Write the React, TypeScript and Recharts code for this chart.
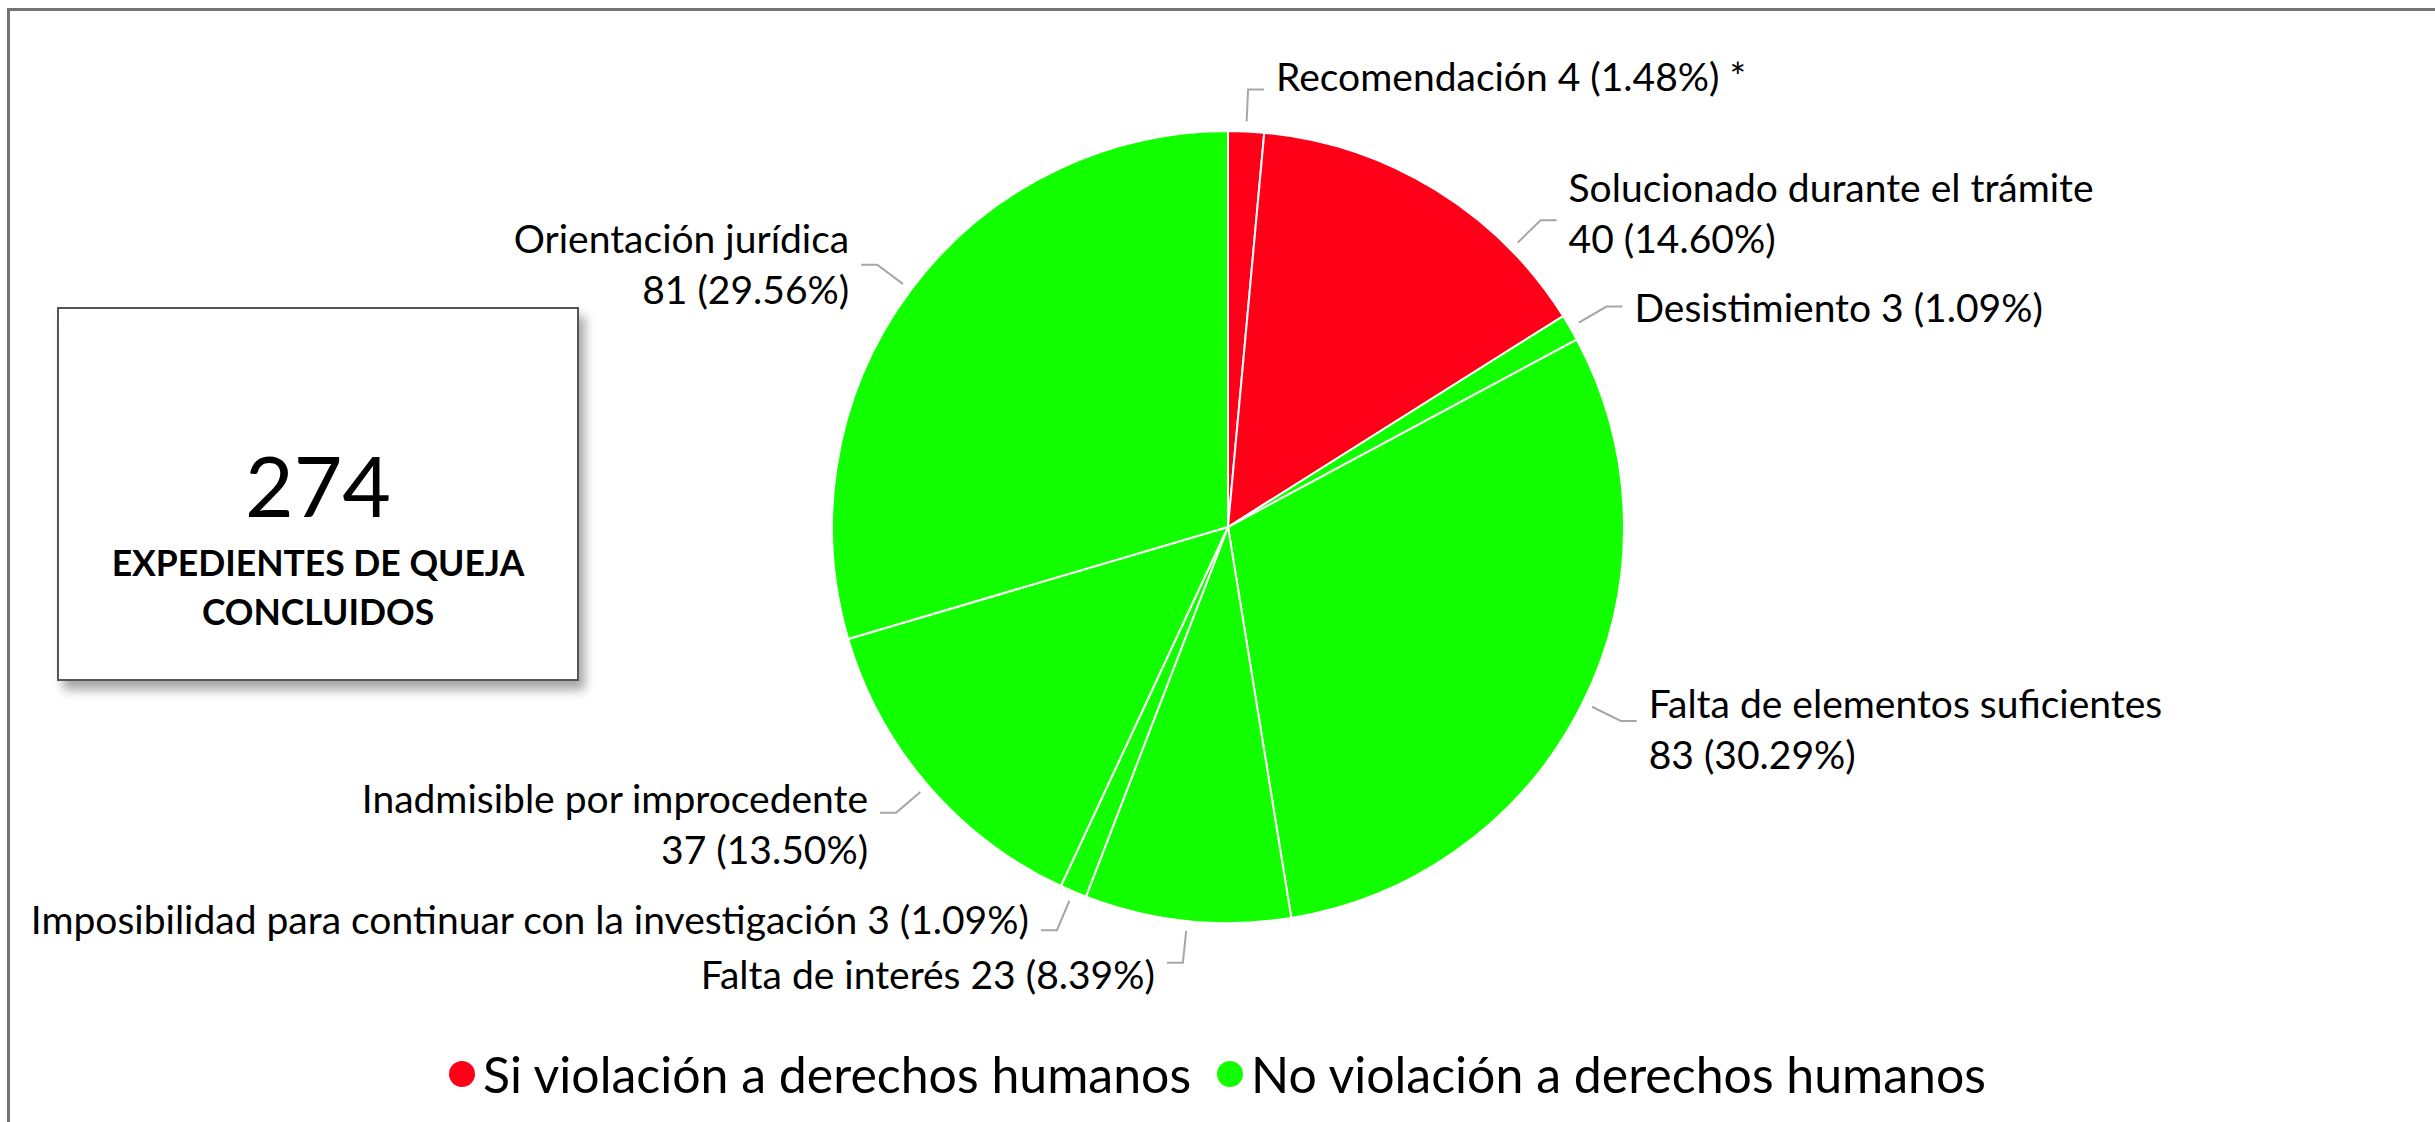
import { PieChart, Pie, Cell, Legend } from "recharts";

// slices in clockwise order starting at 12 o'clock
const categories = [
  "Recomendación",
  "Solucionado durante el trámite",
  "Desistimiento",
  "Falta de elementos suficientes",
  "Falta de interés",
  "Imposibilidad para continuar con la investigación",
  "Inadmisible por improcedente",
  "Orientación jurídica",
];
const values = [4, 40, 3, 83, 23, 3, 37, 81];
const percentLabels = ["1.48%", "14.60%", "1.09%", "30.29%", "8.39%", "1.09%", "13.50%", "29.56%"];
const labelNotes = [" *", "", "", "", "", "", "", ""];
const groupOfSlice = [0, 0, 1, 1, 1, 1, 1, 1];
const groups = ["Si violación a derechos humanos", "No violación a derechos humanos"];
const boxCaption = ["EXPEDIENTES DE QUEJA", "CONCLUIDOS"];

// label layout (not data)
const labelWraps = [false, true, false, true, false, false, true, true];
const labelShift = [0, 14, 0, 0, 0, 0, 0, 0];
const labelDy = [-13, -8, 0, 7, 11, -11, 10, -2];

const groupColors = ["#FF0019", "#12FF00"];
const FONT = "Lato, 'Open Sans', sans-serif";
const W = 2435;
const H = 1122;

const data = categories.map((name, i) => ({
  name,
  value: values[i],
  pct: percentLabels[i],
  note: labelNotes[i],
  group: groupOfSlice[i],
}));

const total = values.reduce((s, v) => s + v, 0);

const renderLabel = (props: any) => {
  const { cx, cy, midAngle, outerRadius, index } = props;
  const d = data[index];
  const a = ((90 - midAngle + labelShift[index]) * Math.PI) / 180;
  const sx = Math.sin(a);
  const sy = -Math.cos(a);
  const x0 = cx + (outerRadius + 10) * sx;
  const y0 = cy + (outerRadius + 10) * sy;
  const ex = cx + (outerRadius + 42) * sx;
  const ey = cy + (outerRadius + 42) * sy;
  const right = sx >= 0;
  const hx = ex + (right ? 16 : -16);
  const tx = ex + (right ? 28 : -28);
  const ty = ey + labelDy[index];
  const anchor = right ? "start" : "end";
  const second = `${d.value} (${d.pct})${d.note}`;
  return (
    <g key={`lbl-${index}`}>
      <polyline
        points={`${x0},${y0} ${ex},${ey} ${hx},${ey}`}
        fill="none"
        stroke="#a6a6a6"
        strokeWidth={2}
      />
      {labelWraps[index] ? (
        <text x={tx} y={ty} textAnchor={anchor} fontFamily={FONT} fontSize={39} fill="#000">
          <tspan x={tx} dy={-25} dominantBaseline="central">{d.name}</tspan>
          <tspan x={tx} dy={51} dominantBaseline="central">{second}</tspan>
        </text>
      ) : (
        <text
          x={tx}
          y={ty}
          textAnchor={anchor}
          dominantBaseline="central"
          fontFamily={FONT}
          fontSize={39}
          fill="#000"
        >
          {`${d.name} ${second}`}
        </text>
      )}
    </g>
  );
};

const renderLegend = () => (
  <div
    style={{
      display: "flex",
      justifyContent: "center",
      alignItems: "center",
      fontFamily: FONT,
      fontSize: 50,
      color: "#000",
    }}
  >
    {groups.map((g, i) => (
      <div key={g} style={{ display: "flex", alignItems: "center", marginRight: i === 0 ? 26 : 0 }}>
        <span
          style={{
            width: 26,
            height: 26,
            borderRadius: "50%",
            background: groupColors[i],
            marginRight: 8,
            display: "inline-block",
          }}
        />
        <span>{g}</span>
      </div>
    ))}
  </div>
);

export default function App() {
  return (
    <div
      style={{
        position: "absolute",
        left: 0,
        top: 0,
        width: W,
        height: H,
        overflow: "hidden",
        background: "#fff",
      }}
    >
      <div
        style={{
          position: "absolute",
          left: 7,
          top: 8,
          width: W + 100,
          height: H + 100,
          border: "3px solid #747474",
        }}
      />
      <div style={{ position: "absolute", left: 0, top: 0 }}>
        <PieChart width={W} height={H} margin={{ top: 0, right: 0, bottom: 0, left: 0 }}>
          <Pie
            data={data}
            dataKey="value"
            nameKey="name"
            cx={1228}
            cy={527}
            outerRadius={396}
            startAngle={90}
            endAngle={-270}
            stroke="#ffffff"
            strokeWidth={2}
            label={renderLabel}
            labelLine={false}
            isAnimationActive={false}
          >
            {data.map((d, i) => (
              <Cell key={i} fill={groupColors[d.group]} />
            ))}
          </Pie>
          <Legend
            content={renderLegend}
            wrapperStyle={{ position: "absolute", top: 1044, left: 0, width: W, height: 64 }}
          />
        </PieChart>
      </div>
      <div
        style={{
          position: "absolute",
          left: 57,
          top: 307,
          width: 518,
          height: 370,
          border: "2px solid #555",
          background: "#fff",
          boxShadow: "6px 9px 10px rgba(0,0,0,0.35)",
          fontFamily: FONT,
          color: "#000",
          textAlign: "center",
        }}
      >
        <div style={{ position: "absolute", left: 0, right: 0, top: 124, fontSize: 84, lineHeight: "104px" }}>
          {total}
        </div>
        <div
          style={{
            position: "absolute",
            left: 0,
            right: 0,
            top: 229,
            fontSize: 35.5,
            fontWeight: 700,
            lineHeight: "49px",
          }}
        >
          {boxCaption.map((c) => (
            <div key={c}>{c}</div>
          ))}
        </div>
      </div>
    </div>
  );
}
